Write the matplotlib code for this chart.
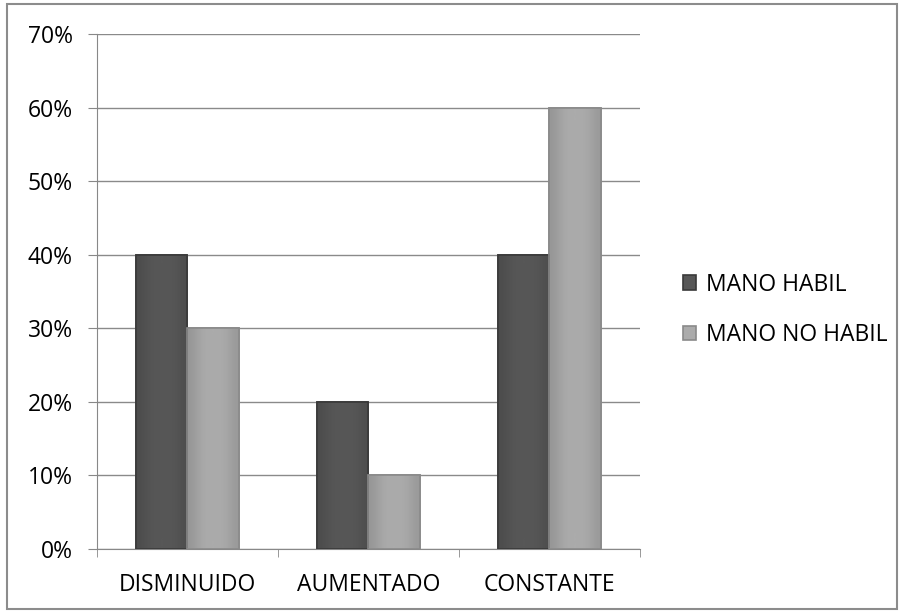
import matplotlib
matplotlib.use("Agg")
import matplotlib.pyplot as plt
import numpy as np
from matplotlib.patches import Rectangle

categories = ["DISMINUIDO", "AUMENTADO", "CONSTANTE"]
series_names = ["MANO HABIL", "MANO NO HABIL"]
mano_habil = [0.40, 0.20, 0.40]
mano_no_habil = [0.30, 0.10, 0.60]
yticks = [0, 0.1, 0.2, 0.3, 0.4, 0.5, 0.6, 0.7]
ytick_labels = ["0%", "10%", "20%", "30%", "40%", "50%", "60%", "70%"]

plt.rcParams['font.family'] = ['Open Sans', 'DejaVu Sans']

fig = plt.figure(figsize=(9.04, 6.16), dpi=100)
fig.patch.set_facecolor("white")
fig.add_artist(Rectangle((7/904, 1-609/616), 890/904, 605/616, transform=fig.transFigure,
                         fill=False, edgecolor="#8c8c8c", linewidth=1.5))

ax = fig.add_axes([97/904, 1-549/616, 543/904, 515/616])
x = np.arange(len(categories))
w = 0.287
colors = ["#575757", "#ababab"]
edges = ["#3a3a3a", "#8a8a8a"]
grad = np.array([0.88, 0.95, 1.0, 1.0, 1.0, 0.97, 0.9])
for i, (vals, c, e, name) in enumerate(zip([mano_habil, mano_no_habil], colors, edges, series_names)):
    bars = ax.bar(x + (i - 0.5) * w, vals, width=w, color=c, edgecolor=e, linewidth=1.2,
                  label=name, zorder=3)
    base = np.array(matplotlib.colors.to_rgb(c))
    img = np.clip(grad[None, :, None] * base[None, None, :], 0, 1)
    for b in bars:
        x0, y0 = b.get_x(), b.get_y()
        im = ax.imshow(img, extent=(x0, x0 + b.get_width(), y0, y0 + b.get_height()),
                       aspect='auto', interpolation='bicubic', zorder=3.5)
        im.set_clip_path(b)
        ax.add_patch(Rectangle((x0, y0), b.get_width(), b.get_height(), fill=False,
                               edgecolor=e, linewidth=1.2, zorder=4))

ax.set_xlim(-0.5, 2.5)
ax.set_ylim(0, 0.7)
ax.set_yticks(yticks)
ax.set_yticklabels(ytick_labels, fontsize=16.5)
ax.set_xticks(x)
ax.set_xticklabels(categories, fontsize=16.5)
ax.tick_params(axis='x', length=0, pad=17)
ax.tick_params(axis='y', length=6.5, color="#888888", pad=11)
ax.set_xticks([-0.5, 0.5, 1.5, 2.5], minor=True)
ax.tick_params(axis='x', which='minor', length=6, color="#888888")
ax.yaxis.grid(True, color="#8a8a8a", linewidth=1)
ax.set_axisbelow(True)
for s in ["top", "right"]:
    ax.spines[s].set_visible(False)
for s in ["left", "bottom"]:
    ax.spines[s].set_color("#888888")

leg = fig.legend(loc="center left", bbox_to_anchor=(662/904, 1-310/616), frameon=False,
                 fontsize=16.5, labelspacing=1.15, handlelength=0.6, handleheight=0.6,
                 handletextpad=0.4)
fig.savefig("out.png", dpi=100)
